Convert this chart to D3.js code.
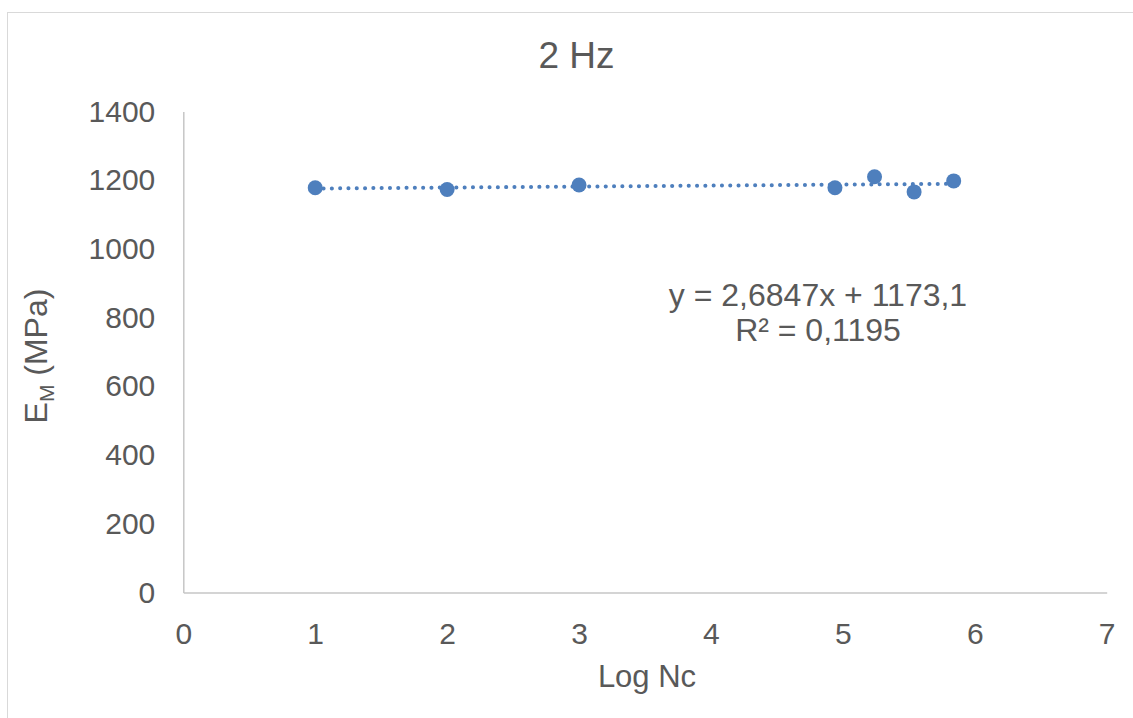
<!DOCTYPE html>
<html>
<head>
<meta charset="utf-8">
<script src="https://cdn.jsdelivr.net/npm/d3@7"></script>
<style>
  html, body { margin: 0; padding: 0; background: #fff; }
  svg { display: block; font-family: "Liberation Sans", Arial, sans-serif; }
</style>
</head>
<body>
<svg id="chart" width="1133" height="718"></svg>
<script>
// ---- data ----
const title = "2 Hz";
const xLabel = "Log Nc";
const logNc = [1, 2, 3, 4.94, 5.24, 5.54, 5.84];
const emMPa = [1178, 1173, 1186, 1178, 1210, 1166, 1198];
const xTicks = [0, 1, 2, 3, 4, 5, 6, 7];
const yTicks = [0, 200, 400, 600, 800, 1000, 1200, 1400];
const equationLines = ["y = 2,6847x + 1173,1", "R² = 0,1195"];

// ---- layout ----
const svg = d3.select("#chart");
const W = 1133, H = 718;
const m = { left: 183.3, right: 1106.7, top: 111.5, bottom: 592.5 };
const blue = "#4e7fbd";
const textCol = "#595959";
const axisCol = "#c6c6c6";

svg.append("rect").attr("x", 0).attr("y", 0).attr("width", W).attr("height", H).attr("fill", "#fff");
// chart border (only top and left visible in the frame)
svg.append("rect").attr("x", 7.5).attr("y", 12.5).attr("width", 1140).attr("height", 720)
  .attr("fill", "none").attr("stroke", "#d9d9d9").attr("stroke-width", 1);

const x = d3.scaleLinear().domain([0, 7]).range([m.left, m.right]);
const y = d3.scaleLinear().domain([0, 1400]).range([m.bottom, m.top]);

// axes
const xAxis = d3.axisBottom(x).tickValues(xTicks).tickSize(0).tickPadding(30).tickFormat(d3.format("d"));
const gx = svg.append("g").attr("transform", `translate(0,${m.bottom})`).call(xAxis);
gx.select(".domain").attr("stroke", axisCol).attr("stroke-width", 1.5);
gx.selectAll("text").attr("fill", textCol).style("font-size", "30px")
  .style("font-family", "'Liberation Sans', Arial, sans-serif");

const yAxis = d3.axisLeft(y).tickValues(yTicks).tickSize(0).tickPadding(28).tickFormat(d3.format("d"));
const gy = svg.append("g").attr("transform", `translate(${m.left},0)`).call(yAxis);
gy.select(".domain").attr("stroke", axisCol).attr("stroke-width", 1.5);
gy.selectAll("text").attr("fill", textCol).style("font-size", "30px")
  .style("font-family", "'Liberation Sans', Arial, sans-serif");

// title
svg.append("text").attr("x", 576.5).attr("y", 68)
  .attr("text-anchor", "middle").attr("fill", textCol).style("font-size", "37px").text(title);

// x label
svg.append("text").attr("x", 647).attr("y", 687)
  .attr("text-anchor", "middle").attr("fill", textCol).style("font-size", "31px").text(xLabel);

// y label with subscript
const yl = svg.append("text").attr("transform", `translate(47,${(m.top + m.bottom) / 2 + 4}) rotate(-90)`)
  .attr("text-anchor", "middle").attr("fill", textCol).style("font-size", "32px");
yl.append("tspan").text("E");
yl.append("tspan").attr("dy", 7).style("font-size", "21px").text("M");
yl.append("tspan").attr("dy", -7).text(" (MPa)");

// trendline (least squares from the data)
const mx = d3.mean(logNc), my = d3.mean(emMPa);
let sxy = 0, sxx = 0;
logNc.forEach((v, i) => { sxy += (v - mx) * (emMPa[i] - my); sxx += (v - mx) * (v - mx); });
const slope = sxy / sxx, intercept = my - slope * mx;
const [x0, x1] = d3.extent(logNc);
svg.append("line")
  .attr("x1", x(x0)).attr("y1", y(intercept + slope * x0))
  .attr("x2", x(x1)).attr("y2", y(intercept + slope * x1))
  .attr("stroke", blue).attr("stroke-width", 4).attr("stroke-linecap", "round")
  .attr("stroke-dasharray", "0.1 8.2");

// points
svg.append("g").selectAll("circle").data(logNc).join("circle")
  .attr("cx", d => x(d)).attr("cy", (d, i) => y(emMPa[i])).attr("r", 7.5).attr("fill", blue);

// equation
const eq = svg.append("text").attr("text-anchor", "middle").attr("fill", textCol).style("font-size", "32px");
equationLines.forEach((t, i) => {
  eq.append("tspan").attr("x", 818).attr("y", 306 + i * 35).text(t);
});
</script>
</body>
</html>
